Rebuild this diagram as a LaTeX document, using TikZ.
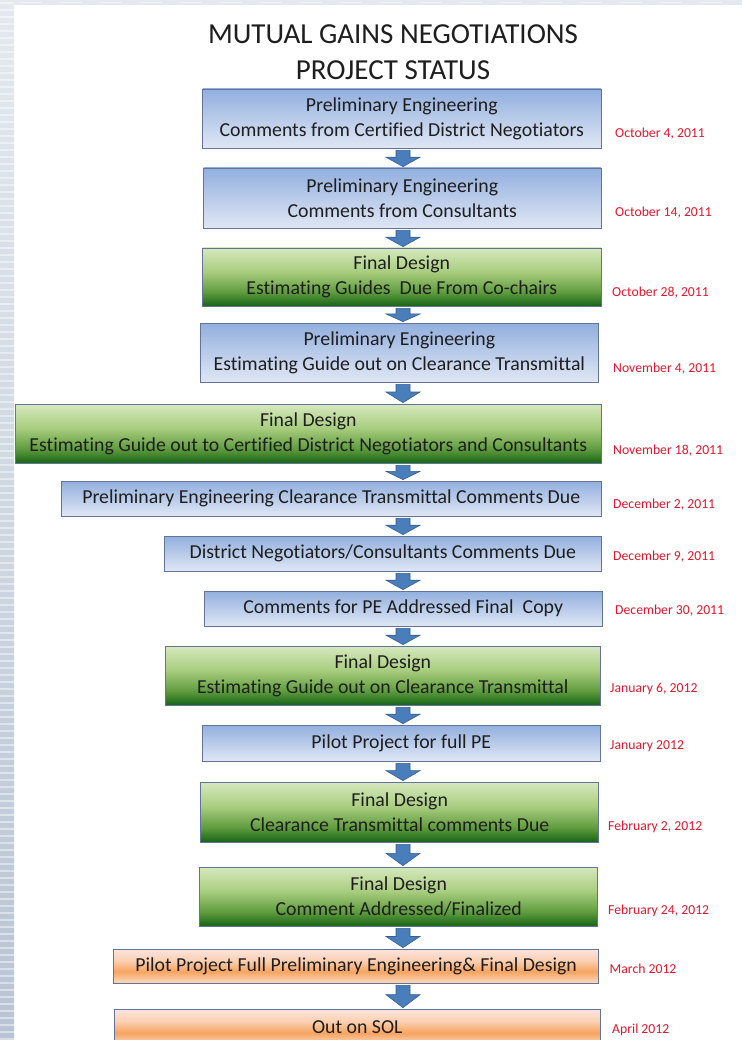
\documentclass[tikz,border=0pt]{standalone}
\usepackage{fontspec}
\setmainfont{Carlito}[Ligatures=NoCommon]
\usetikzlibrary{calc}
\definecolor{bluetop}{RGB}{146,175,222}
\definecolor{bluebot}{RGB}{224,231,245}
\definecolor{greentop}{RGB}{214,232,190}
\definecolor{greenmid}{RGB}{170,206,128}
\definecolor{greenlow}{RGB}{96,156,62}
\definecolor{greenbot}{RGB}{24,100,24}
\definecolor{orangetop}{RGB}{252,228,224}
\definecolor{orangeup}{RGB}{251,208,178}
\definecolor{orangemid}{RGB}{247,164,96}
\definecolor{orangebot}{RGB}{252,218,192}
\definecolor{boxedge}{RGB}{98,116,152}
\definecolor{arrowfill}{RGB}{74,126,187}
\definecolor{arrowedge}{RGB}{54,94,146}
\definecolor{datered}{RGB}{226,24,42}
\definecolor{textcol}{RGB}{30,30,30}
\definecolor{striptop}{RGB}{228,233,239}
\definecolor{stripbot}{RGB}{184,196,212}
\pgfdeclareverticalshading{blueshade}{100bp}{color(0bp)=(bluebot); color(25bp)=(bluebot); color(75bp)=(bluetop); color(100bp)=(bluetop)}
\pgfdeclareverticalshading{greenshade}{100bp}{color(0bp)=(greenbot); color(25bp)=(greenbot); color(37bp)=(greenlow); color(55bp)=(greenmid); color(75bp)=(greentop); color(100bp)=(greentop)}
\pgfdeclareverticalshading{orangeshade}{100bp}{color(0bp)=(orangebot); color(25bp)=(orangebot); color(42bp)=(orangemid); color(58bp)=(orangeup); color(75bp)=(orangetop); color(100bp)=(orangetop)}
\pgfdeclareverticalshading{stripshade}{100bp}{color(0bp)=(stripbot); color(25bp)=(stripbot); color(75bp)=(striptop); color(100bp)=(striptop)}
\newcommand\bxfont{\fontsize{19.8pt}{25pt}\selectfont}
\newcommand\dtfont{\fontsize{13.7pt}{16pt}\selectfont}
\newcommand\ttlfont{\fontsize{29pt}{36.5pt}\selectfont}
\tikzset{
  box/.style={draw=boxedge, line width=0.8pt, inner sep=0pt, align=center, font=\bxfont, text=textcol},
  bluebox/.style={box, shading=blueshade},
  greenbox/.style={box, shading=greenshade},
  orangebox/.style={box, shading=orangeshade},
  datelabel/.style={anchor=west, inner sep=0pt, font=\dtfont, text=datered},
  titlestyle/.style={align=center, inner sep=0pt, font=\ttlfont, text=textcol},
  flowarr/.style={fill=arrowfill, draw=arrowedge, line width=0.6pt, line join=miter},
}
\newcommand\flowarrow[2]{%
  \coordinate (s) at ($(ax |- #1.south)+(0,2)$);
  \coordinate (t) at ($(ax |- #2.north)+(0,-1)$);
  \coordinate (h) at ($(s)!0.42!(t)$);
  \path[flowarr] ($(s)+(-7,0)$) -- ($(s)+(7,0)$) -- ($(h)+(7,0)$) -- ($(h)+(17,0)$) -- (t) -- ($(h)+(-17,0)$) -- ($(h)+(-7,0)$) -- cycle;}
\begin{document}
\begin{tikzpicture}[x=1pt,y=-1pt]
\clip (0,0) rectangle (742,1040);
\fill[white] (0,0) rectangle (742,1040);
% background strips
\shade[shading=stripshade] (0,0) rectangle (14,1040);
\fill[striptop] (0,0) rectangle (742,5);
\foreach \yy in {3,10,...,1040} {\draw[white, opacity=0.45, line width=1.6pt] (0,\yy) -- (14,\yy);}
\foreach \xx in {20,60,...,742} {\draw[white, opacity=0.5, line width=1pt] (\xx,2.5) -- (\xx+22,2.5);}
\coordinate (ax) at (403,0);
% title
\node[titlestyle] (title) at (393,52) {MUTUAL GAINS NEGOTIATIONS\\PROJECT STATUS};
% boxes
\node[bluebox, minimum width=398.5, minimum height=59] (b1) at (401.75,118.5) {Preliminary Engineering\\Comments from Certified District Negotiators};
\node[bluebox, minimum width=397.5, minimum height=60] (b2) at (402.25,198) {Preliminary Engineering\\Comments from Consultants};
\node[greenbox, minimum width=398.5, minimum height=58] (b3) at (401.75,277) {Final Design\\Estimating Guides~ Due From Co-chairs};
\node[bluebox, minimum width=397.3, minimum height=59] (b4) at (399.35,352.5) {Preliminary Engineering\\Estimating Guide out on Clearance Transmittal};
\node[greenbox, minimum width=585.4, minimum height=59] (b5) at (308.3,433.5) {Final Design\\Estimating Guide out to Certified District Negotiators and Consultants};
\node[bluebox, minimum width=539.5, minimum height=35] (b6) at (331.25,498.5) {Preliminary Engineering Clearance Transmittal Comments Due};
\node[bluebox, minimum width=436.3, minimum height=35] (b7) at (382.85,553.5) {District Negotiators/Consultants Comments Due};
\node[bluebox, minimum width=397.6, minimum height=35] (b8) at (403.2,608.5) {Comments for PE Addressed Final~ Copy};
\node[greenbox, minimum width=434.4, minimum height=59] (b9) at (382.8,675.5) {Final Design\\Estimating Guide out on Clearance Transmittal};
\node[bluebox, minimum width=397.5, minimum height=36] (b10) at (401.25,743) {Pilot Project for full PE};
\node[greenbox, minimum width=398, minimum height=60] (b11) at (399.7,812) {Final Design\\Clearance Transmittal comments Due};
\node[greenbox, minimum width=398, minimum height=59] (b12) at (398.7,896.5) {Final Design\\Comment Addressed/Finalized};
\node[orangebox, minimum width=485.1, minimum height=34] (b13) at (356.15,966) {Pilot Project Full Preliminary Engineering\& Final Design};
\node[orangebox, minimum width=485.5, minimum height=36] (b14) at (357.25,1027) {Out on SOL};
% dates
\node[datelabel] (d1) at (615,134) {October 4, 2011};
\node[datelabel] (d2) at (615,212.7) {October 14, 2011};
\node[datelabel] (d3) at (612,293) {October 28, 2011};
\node[datelabel] (d4) at (613,369) {November 4, 2011};
\node[datelabel] (d5) at (613,450.7) {November 18, 2011};
\node[datelabel] (d6) at (613,505) {December 2, 2011};
\node[datelabel] (d7) at (613,556.7) {December 9, 2011};
\node[datelabel] (d8) at (615,610.7) {December 30, 2011};
\node[datelabel] (d9) at (610,689) {January 6, 2012};
\node[datelabel] (d10) at (610,746) {January 2012};
\node[datelabel] (d11) at (608,826.7) {February 2, 2012};
\node[datelabel] (d12) at (608,910.7) {February 24, 2012};
\node[datelabel] (d13) at (609.5,968.7) {March 2012};
\node[datelabel] (d14) at (612,1030) {April 2012};
% arrows
\flowarrow{b1}{b2}
\flowarrow{b2}{b3}
\flowarrow{b3}{b4}
\flowarrow{b4}{b5}
\flowarrow{b5}{b6}
\flowarrow{b6}{b7}
\flowarrow{b7}{b8}
\flowarrow{b8}{b9}
\flowarrow{b9}{b10}
\flowarrow{b10}{b11}
\flowarrow{b11}{b12}
\flowarrow{b12}{b13}
\flowarrow{b13}{b14}
\end{tikzpicture}
\end{document}
